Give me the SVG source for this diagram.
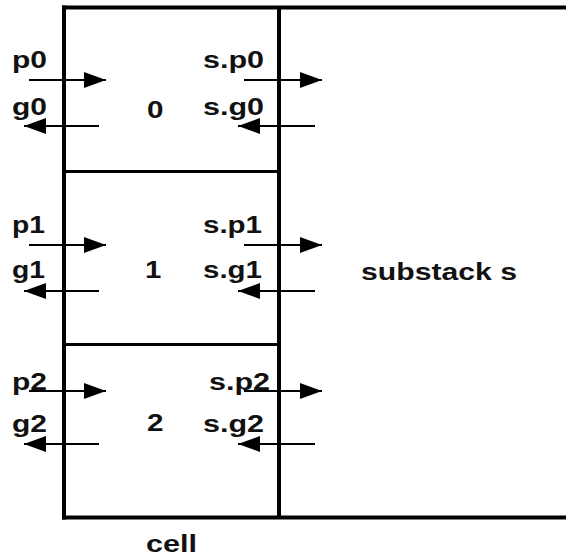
<svg xmlns="http://www.w3.org/2000/svg" width="566" height="559" viewBox="0 0 566 559">
<defs>
<style>
.frame{stroke:#000;stroke-width:4;fill:none;stroke-linecap:square}
.div{stroke:#000;stroke-width:3;fill:none}
.conn{stroke:#000;stroke-width:2;fill:none;marker-end:url(#ah)}
text{font-family:"Liberation Sans",Arial,Helvetica,sans-serif;font-size:23px;font-weight:bold;fill:#111}
</style>
<marker id="ah" markerUnits="userSpaceOnUse" markerWidth="24" markerHeight="18" refX="22" refY="8" orient="auto">
<path d="M0,0 L22,8 L0,16 Z" fill="#000"/>
</marker>
</defs>
<rect width="566" height="559" fill="#fff"/>
<g id="substack">
<path class="frame" d="M64,7.5 H570 M279,7.5 V517.5 M64,517.5 H570"/>
<text x="361" y="280" textLength="156" lengthAdjust="spacingAndGlyphs">substack s</text>
</g>
<g id="cell">
<path class="frame" d="M64,7.5 V517.5"/>
<text x="146" y="552" textLength="51" lengthAdjust="spacingAndGlyphs">cell</text>
</g>
<g id="cell0">
<text x="147" y="118" textLength="16.5" lengthAdjust="spacingAndGlyphs">0</text>
<text x="12" y="68" textLength="35" lengthAdjust="spacingAndGlyphs">p0</text>
<text x="12" y="115" textLength="35" lengthAdjust="spacingAndGlyphs">g0</text>
<text x="203" y="68" textLength="61" lengthAdjust="spacingAndGlyphs">s.p0</text>
<text x="203" y="115" textLength="61" lengthAdjust="spacingAndGlyphs">s.g0</text>
</g>
<g id="cell1">
<path class="div" d="M64,171.5 H279"/>
<text x="145" y="278" textLength="16.3" lengthAdjust="spacingAndGlyphs">1</text>
<text x="12" y="233" textLength="33" lengthAdjust="spacingAndGlyphs">p1</text>
<text x="12" y="278" textLength="33" lengthAdjust="spacingAndGlyphs">g1</text>
<text x="203" y="233" textLength="59" lengthAdjust="spacingAndGlyphs">s.p1</text>
<text x="203" y="278" textLength="59" lengthAdjust="spacingAndGlyphs">s.g1</text>
</g>
<g id="cell2">
<path class="div" d="M64,344.5 H279"/>
<text x="147" y="431" textLength="16.5" lengthAdjust="spacingAndGlyphs">2</text>
<text x="12" y="390" textLength="35" lengthAdjust="spacingAndGlyphs">p2</text>
<text x="12" y="432" textLength="35" lengthAdjust="spacingAndGlyphs">g2</text>
<text x="209" y="390" textLength="61" lengthAdjust="spacingAndGlyphs">s.p2</text>
<text x="203" y="432" textLength="61" lengthAdjust="spacingAndGlyphs">s.g2</text>
</g>
<g id="connectors">
<path class="conn" d="M29,80 H106"/>
<path class="conn" d="M99,126 H24"/>
<path class="conn" d="M244,80 H322"/>
<path class="conn" d="M315,126 H238"/>
<path class="conn" d="M29,245 H106"/>
<path class="conn" d="M99,291 H24"/>
<path class="conn" d="M244,245 H322"/>
<path class="conn" d="M315,291 H238"/>
<path class="conn" d="M29,391 H106"/>
<path class="conn" d="M99,444 H24"/>
<path class="conn" d="M244,391 H322"/>
<path class="conn" d="M315,444 H238"/>
</g>
</svg>
